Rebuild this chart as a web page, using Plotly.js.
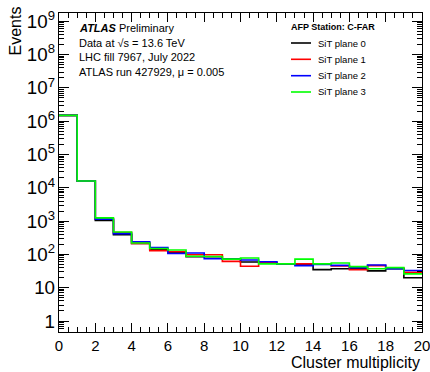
<!DOCTYPE html>
<html><head><meta charset="utf-8">
<script src="https://cdn.plot.ly/plotly-3.0.1.min.js"></script>
<style>html,body{margin:0;padding:0;background:#fff}</style>
</head><body><div id="chart" style="width:430px;height:372px"></div>
<script>
// bin edges (Cluster multiplicity), 20 bins of width 1
const binEdges = [0,1,2,3,4,5,6,7,8,9,10,11,12,13,14,15,16,17,18,19,20];
const seriesNames = ['SiT plane 0','SiT plane 1','SiT plane 2','SiT plane 3'];
const seriesColors = ['#000000','#ff0000','#0000ff','#00ff00'];
// events per bin
const plane0 = [1.5e6,1.6e4,1050,390,215,140,112,85,85,72,59,58,52,50,35,37,37,32,37,20];
const plane1 = [1.5e6,1.6e4,1150,450,215,130,120,98,98,62,44,57,52,52,52,45,35,46,39,29];
const plane2 = [1.5e6,1.6e4,1150,420,240,160,107,110,74,72,68,60,52,46,50,47,40,48,37,33];
const plane3 = [1.5e6,1.6e4,1250,470,220,150,135,88,87,72,78,52,52,72,52,55,43,37,40,26];
const allSeries = [plane0, plane1, plane2, plane3];

const infoLines = ['<b><i>ATLAS</i></b> Preliminary','Data at √s = 13.6 TeV','LHC fill 7967, July 2022','ATLAS run 427929, μ = 0.005'];
const legendTitle = 'AFP Station: C-FAR';
const xTitle = 'Cluster multiplicity';
const yTitle = 'Events';

const FONT = 'Liberation Sans, Arial, sans-serif';
const Y_RANGE = [-0.33, 9.25];

const traces = allSeries.map((vals, i) => ({
  type: 'scatter', mode: 'lines',
  x: binEdges, y: vals.concat([vals[vals.length-1]]),
  line: {shape: 'hv', color: seriesColors[i], width: 1.6},
  name: seriesNames[i], showlegend: false, hoverinfo: 'skip'
}));
// invisible helper trace so the minor-tick overlay axes are drawn
traces.unshift({type:'scatter', mode:'lines', x:[0,20], y:[1,1], xaxis:'x2', yaxis:'y2',
  line:{width:0, color:'rgba(0,0,0,0)'}, showlegend:false, hoverinfo:'skip'});

// minor tick positions: 2..9 per decade on y, every 0.5 on x
const yMinorTicks = [];
for (let d = -1; d <= 9; d++) for (let m = 2; m <= 9; m++) yMinorTicks.push(m * Math.pow(10, d));
const xMinorTicks = [];
for (let v = 0.5; v < 20; v += 0.5) if (v % 2 !== 0) xMinorTicks.push(v);

const W = 430, H = 372, L = 59, R = 8, T = 13, B = 40;
const pw = W - L - R, ph = H - T - B;
const px = x => (x - L) / pw;
const py = y => (H - B - y) / ph;

const annotations = [];
const infoY = [28, 43, 57, 72];
infoLines.forEach((t, i) => annotations.push({
  xref: 'paper', yref: 'paper', x: px(77), y: py(infoY[i]), xanchor: 'left', yanchor: 'middle',
  text: t, showarrow: false, font: {family: FONT, size: 11, color: '#000'}
}));
annotations.push({xref:'paper', yref:'paper', x: px(289), y: py(27), xanchor:'left', yanchor:'middle',
  text: '<b>' + legendTitle + '</b>', showarrow:false, font:{family: FONT, size: 9, color:'#000'}});
const legY = [43, 59.3, 75.7, 92];
const shapes = [];
seriesNames.forEach((n, i) => {
  shapes.push({type:'line', xref:'paper', yref:'paper', x0: px(291), x1: px(311), y0: py(legY[i]), y1: py(legY[i]),
    line:{color: seriesColors[i], width: 1.6}});
  annotations.push({xref:'paper', yref:'paper', x: px(316), y: py(legY[i]), xanchor:'left', yanchor:'middle',
    text: n, showarrow:false, font:{family: FONT, size: 9.5, color:'#000'}});
});
annotations.push({xref:'paper', yref:'paper', x: 1, y: py(362), xanchor:'right', yanchor:'middle',
  text: xTitle, showarrow:false, font:{family: FONT, size: 16, color:'#000'}});
annotations.push({xref:'paper', yref:'paper', x: px(15), y: py(5), xanchor:'center', yanchor:'top', textangle: -90,
  text: yTitle, showarrow:false, font:{family: FONT, size: 16, color:'#000'}});

const layout = {
  width: W, height: H,
  margin: {l: L, r: R, t: T, b: B, pad: 0},
  paper_bgcolor: '#fff', plot_bgcolor: '#fff',
  showlegend: false,
  font: {family: FONT, color: '#000'},
  xaxis: {
    range: [0, 20], tick0: 0, dtick: 2, ticks: 'inside', ticklen: 9, tickwidth: 1, tickcolor: '#000',
    showline: true, linecolor: '#000', linewidth: 1, mirror: 'ticks', ticklabeloverflow: 'allow',
    showgrid: false, zeroline: false, tickfont: {family: FONT, size: 15, color: '#000'}
  },
  yaxis: {
    type: 'log', range: Y_RANGE, dtick: 1, exponentformat: 'power',
    ticks: 'inside', ticklen: 10, tickwidth: 1, tickcolor: '#000',
    showline: true, linecolor: '#000', linewidth: 1, mirror: 'ticks',
    showgrid: false, zeroline: false, tickfont: {family: FONT, size: 15, color: '#000'}
  },
  xaxis2: {
    overlaying: 'x', anchor: 'y2', range: [0, 20], tickmode: 'array', tickvals: xMinorTicks, showticklabels: false,
    ticks: 'inside', ticklen: 5, tickwidth: 1, tickcolor: '#000', side: 'bottom',
    showline: false, mirror: 'ticks', showgrid: false, zeroline: false
  },
  yaxis2: {
    overlaying: 'y', anchor: 'x2', type: 'log', range: Y_RANGE, tickmode: 'array', tickvals: yMinorTicks, showticklabels: false,
    ticks: 'inside', ticklen: 5, tickwidth: 1, tickcolor: '#000', side: 'left',
    showline: false, mirror: 'ticks', showgrid: false, zeroline: false
  },
  annotations: annotations,
  shapes: shapes
};

Plotly.newPlot('chart', traces, layout, {displayModeBar: false, staticPlot: true});
</script></body></html>
